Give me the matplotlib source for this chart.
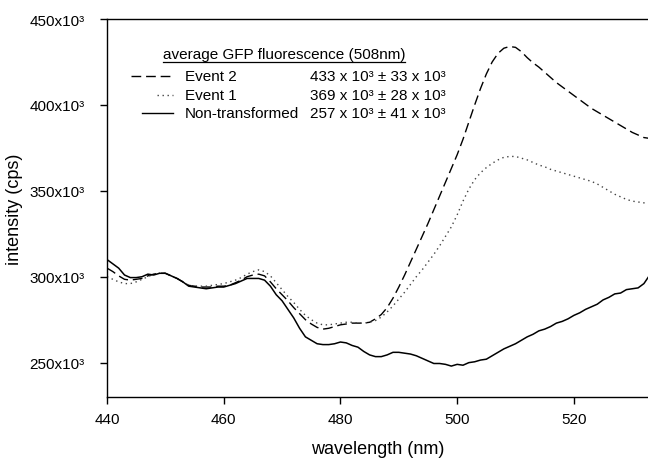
import numpy as np
import matplotlib
matplotlib.use('Agg')
import matplotlib.pyplot as plt
from matplotlib.ticker import FuncFormatter
from matplotlib.lines import Line2D

plt.rcParams['font.family'] = ['Liberation Sans', 'DejaVu Sans']

# =========================
# DATA (intensity in 10^3 cps)
# =========================
wavelength = list(range(440, 534))

non_transformed = [
    310, 307.5, 305, 301, 299.5, 299.5, 300, 301.5, 301, 302,          # 440-449
    302, 300.5, 299, 297, 294.5, 294, 293.5, 293, 293.5, 294,           # 450-459
    294, 295, 296, 297.5, 299, 299, 299, 298, 294.5, 289.5,            # 460-469
    286, 281, 276, 270, 265, 263, 261, 260.5, 260.5, 261,              # 470-479
    262, 261.5, 260, 259, 256.5, 254.5, 253.5, 253.5, 254.5, 256,      # 480-489
    256, 255.5, 255, 254, 252.5, 251, 249.5, 249.5, 249, 248,          # 490-499
    249, 248.5, 250, 250.5, 251.5, 252, 254, 256, 258, 259.5,          # 500-509
    261, 263, 265, 266.5, 268.5, 269.5, 271, 273, 274, 275.5,          # 510-519
    277.5, 279, 281, 282.5, 284, 286.5, 288, 290, 290.5, 292.5,        # 520-529
    293, 293.5, 296, 301,                                              # 530-533
]

event2 = [
    305, 303, 300.5, 298.5, 298, 298.5, 299, 300.5, 301.5, 302,
    302, 300.5, 299, 297, 295, 294.5, 294, 294, 294, 294.5,
    294.5, 295, 296.5, 298, 300, 301, 301.5, 300.5, 297, 293,
    289.5, 286, 282, 278.5, 275, 272.5, 270.5, 269.5, 270, 271,
    272, 272.5, 273, 273, 273, 273.5, 275.5, 278, 282, 287.5,
    294, 301, 308.5, 316, 323.5, 331, 339, 347, 355, 363,
    371, 380, 390, 400, 409.5, 418, 425, 430, 433, 434,
    433.5, 431, 427.5, 424.5, 422, 419, 416, 413, 410.5, 408,
    405.5, 403, 400.5, 398, 396, 394, 392, 390, 388, 386,
    384, 382.5, 381, 380.5,
]

event1 = [
    300, 298.5, 297, 296, 296, 297, 298.5, 300, 301.5, 302,
    302, 300.5, 299, 297, 295, 294.5, 294.5, 294.5, 295, 295.5,
    296, 297, 298, 299.5, 301.5, 303, 304, 303, 300.5, 296.5,
    292.5, 288.5, 285, 281, 277.5, 275, 273, 272, 272, 272.5,
    273, 273.5, 273.5, 273, 273, 273.5, 274.5, 276.5, 279.5, 283,
    287, 291, 295.5, 300, 304, 308.5, 313, 318, 323.5, 329,
    336, 344, 351, 356.5, 360.5, 363.5, 366, 368, 369.5, 370,
    370, 369, 368, 366.5, 365, 364, 362.5, 361.5, 360.5, 359.5,
    358.5, 357.5, 356.5, 355.5, 354, 352, 350, 348, 346.5, 345,
    344, 343.5, 343, 343,
]

legend_title = "average GFP fluorescence (508nm)"
legend_names = ["Event 2", "Event 1", "Non-transformed"]
legend_values = ["433 x 10\u00b3 \u00b1 33 x 10\u00b3",
                 "369 x 10\u00b3 \u00b1 28 x 10\u00b3",
                 "257 x 10\u00b3 \u00b1 41 x 10\u00b3"]

# =========================
# PLOT
# =========================
fig = plt.figure(figsize=(6.48, 4.6), dpi=100)
ax = fig.add_axes([107 / 648, 1 - 398 / 460, 1 - 107 / 648, (398 - 20) / 460])

x = np.array(wavelength)
ax.plot(x, np.array(event2) * 1e3, color='black', lw=1.0, linestyle=(0, (7, 3.5)))
ax.plot(x, np.array(event1) * 1e3, color='#444444', lw=1.0, linestyle=(0, (1, 2.6)))
ax.plot(x, np.array(non_transformed) * 1e3, color='black', lw=1.1, linestyle='-')

ax.set_xlim(440, 532.7)
ax.set_ylim(230e3, 450e3)
ax.set_xticks([440, 460, 480, 500, 520])
ax.set_yticks([250e3, 300e3, 350e3, 400e3, 450e3])
ax.yaxis.set_major_formatter(FuncFormatter(lambda v, p: f"{int(round(v / 1000))}x10\u00b3"))

ax.tick_params(direction='out', length=5, width=1, labelsize=11)
ax.tick_params(axis='y', pad=11)
ax.tick_params(axis='x', pad=6)
ax.spines['right'].set_visible(False)
for s in ['left', 'bottom', 'top']:
    ax.spines[s].set_linewidth(1.0)

ax.set_xlabel("wavelength (nm)", fontsize=13, labelpad=10)
ax.set_ylabel("intensity (cps)", fontsize=13, labelpad=5)

# Legend drawn by hand (figure pixel coords -> fraction)
W, H = 648.0, 460.0
ttl = fig.text(163 / W, 1 - 55 / H, legend_title, fontsize=11, va='center', ha='left')
styles = [(0, (7, 3.5)), (0, (1, 2.6)), '-']
colors = ['black', '#444444', 'black']
line_x0 = [131, 157, 142]
rows_y = [77, 96, 114]
for i in range(3):
    y = 1 - rows_y[i] / H
    fig.add_artist(Line2D([line_x0[i] / W, 173 / W], [y, y], color=colors[i],
                          lw=1.0, linestyle=styles[i]))
    fig.text(185 / W, y, legend_names[i], fontsize=11, va='center', ha='left')
    fig.text(310 / W, y, legend_values[i], fontsize=11, va='center', ha='left')

# underline the legend title
fig.canvas.draw()
bb = ttl.get_window_extent().transformed(fig.transFigure.inverted())
fig.add_artist(Line2D([bb.x0, bb.x1], [bb.y0 - 0.002, bb.y0 - 0.002], color='black', lw=0.9))

fig.savefig("out.png", dpi=100)
